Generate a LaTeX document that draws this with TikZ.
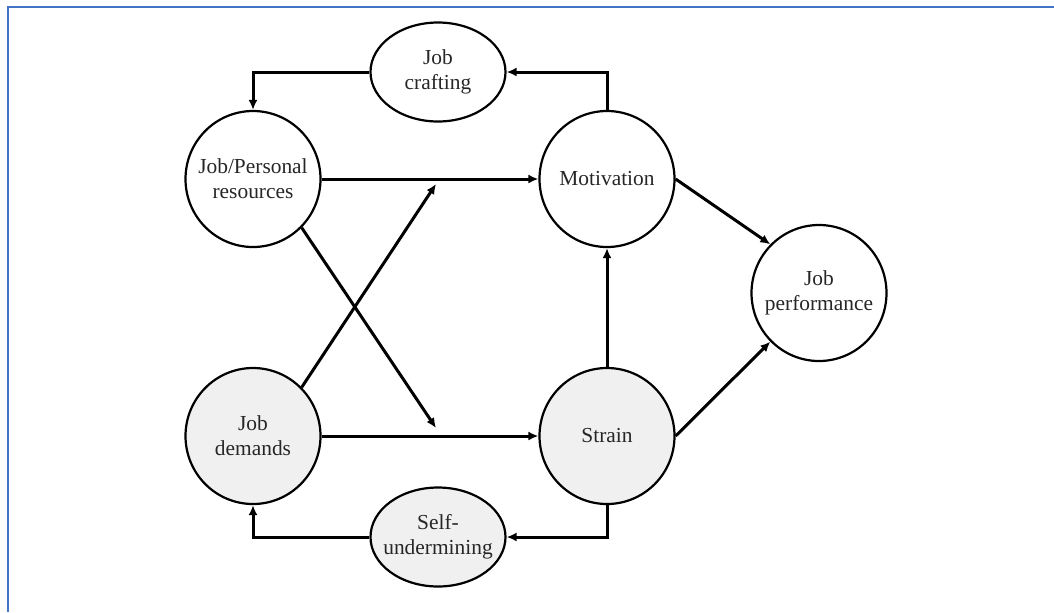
\documentclass[tikz,border=0pt]{standalone}
\usepackage{fontspec}
\setmainfont{Liberation Serif}
\usetikzlibrary{shapes.geometric,arrows.meta}
\definecolor{frameblue}{HTML}{4472C4}
\definecolor{lightfill}{HTML}{F0F0F0}

\begin{document}
\begin{tikzpicture}[x=0.5pt,y=-0.5pt,
    var/.style={draw,ellipse,line width=1.1pt,inner xsep=-4pt,inner ysep=0pt,
      minimum width=67.5pt,minimum height=68pt,align=center,
      font=\fontsize{10.7}{12.5}\selectfont,text=black!85},
    loopvar/.style={var,minimum height=49.5pt},
    shaded/.style={fill=lightfill},
    arr/.style={line width=1.5pt,-{Latex[length=5pt,width=4.5pt]}}]

     \useasboundingbox (0,0) rectangle (1054,612);

     % draw frame
     \draw[frameblue,line width=1.2pt] (8,612) -- (8,7) -- (1054,7);

     % draw nodes
     \node[loopvar] (craft) at (438,72) {Job\\crafting};
     \node[var] (res) at (253,179) {Job/Personal\\resources};
     \node[var] (mot) at (607,179) {Motivation};
     \node[var] (perf) at (819,293) {Job\\performance};
     \node[var,shaded] (dem) at (253,436) {Job\\demands};
     \node[var,shaded] (strain) at (607,436) {Strain};
     \node[loopvar,shaded] (self) at (438,537) {Self-\\undermining};

     % free ends of the crossing arrows
     \coordinate (upper) at (436,184);
     \coordinate (lower) at (436,428);

     % draw arrows
     \draw[arr] (res) -- (mot);
     \draw[arr] (dem) -- (strain);
     \draw[arr] (strain) -- (mot);
     \draw[arr] (mot.east) -- (perf.135);
     \draw[arr] (strain.east) -- (perf.225);
     \draw[arr] (dem.45) -- (upper);
     \draw[arr] (res.-45) -- (lower);

     % draw loops
     \draw[arr] (mot.north) |- (craft.east);
     \draw[arr] (craft.west) -| (res.north);
     \draw[arr] (strain.south) |- (self.east);
     \draw[arr] (self.west) -| (dem.south);

\end{tikzpicture}
\end{document}
